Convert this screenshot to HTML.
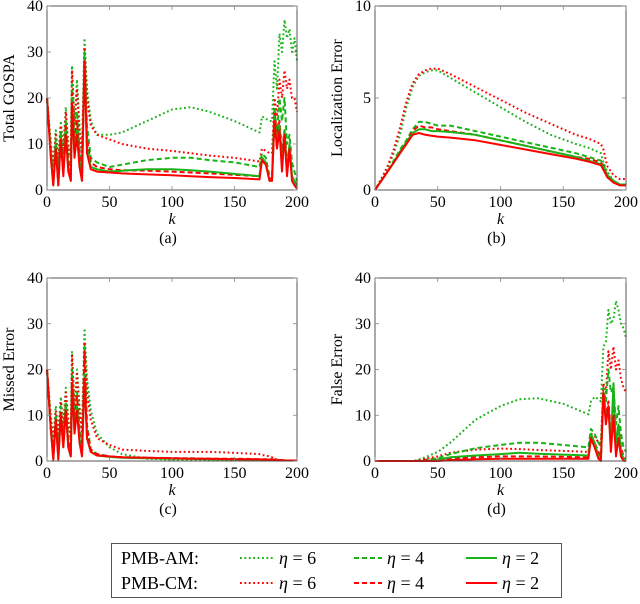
<!DOCTYPE html>
<html><head><meta charset="utf-8"><style>
body{margin:0;background:#fff;}
svg, svg text{font-family:"Liberation Serif","DejaVu Serif",serif !important;}
svg text{fill:#000;}
</style></head><body>
<svg id="fig" width="640" height="599" viewBox="0 0 640 599" xmlns="http://www.w3.org/2000/svg" font-family="Liberation Serif, serif"></svg>
<script>
const kA=[0,3,5,7,9,11,13,15,17,19,20,22,24,26,28,30,32,35,40,50,60,80,100,115,130,150,170,172,175,178,180,182,184,186,188,190,192,194,196,198,200];
const kB=[0,5,10,15,20,25,30,35,40,45,50,60,80,100,120,140,160,170,180,182,185,190,195,200];
const seriesNames=["AM6","CM6","AM4","CM4","AM2","CM2"];
// (a) Total GOSPA
const gospaAM6=[20,10,6,13,7,15,9,18,10,8,27,15,24,14,9,33,22,15,12,12,12.5,15,17.5,18,17,15,12.5,16,15.5,15,15,28,22,34,30,37,33,35,30,33,28];
const gospaCM6=[20,10,5,12,6,14,8,17,9,7,26,14,22,12,8,31,20,14,12,11,10,9,8.5,8,7.5,7,6.2,9,8.5,8,8,20,16,24,20,26,22,24,20,20,17];
const gospaAM4=[20,9,3,11,3,13,6,15,7,4,23,11,17,9,4,30,14,7,6,5,5.5,6.5,7,7,6.5,6,5,8,7,3,3,18,12,20,15,20,10,12,6,4,2];
const gospaCM4=[20,8,2,10,2,12,5,14,6,3,21,10,15,8,3,29,11,6,5,4.5,4.3,4.2,4,3.8,3.6,3.3,3,7,6,2.5,2.5,17,12,15,8,13,6,8,3,2,1];
const gospaAM2=[20,8,1,10,1,12,4,13,5,2,20,8,13,6,2,29,9,5,4.5,4,4.2,4.5,4.5,4.3,4,3.5,3,7,6,2,2,16,10,14,5,13,4,10,3,2,0.5];
const gospaCM2=[20,7,1,9,1,11,3,12,4,2,19,7,12,5,2,28,8,4.5,4,3.8,3.6,3.4,3.2,3,2.8,2.6,2.3,6.5,5.5,2,2,15,9,13,4,12,3,9,2,1,0.3];
// (b) Localization
const locAM6=[0,0.6,1.2,2,3,4.5,5.6,6.2,6.4,6.5,6.5,6.1,5.3,4.5,3.7,3,2.5,2.3,2,1.5,1,0.5,0.3,0.3];
const locCM6=[0,0.6,1.3,2.2,3.4,4.8,5.8,6.3,6.5,6.6,6.6,6.3,5.6,4.9,4.2,3.6,3,2.8,2.5,2.2,1.3,0.8,0.6,0.6];
const locAM4=[0,0.5,1,1.6,2.2,2.7,3.3,3.7,3.7,3.6,3.5,3.5,3.2,2.9,2.6,2.3,2,1.8,1.6,1.4,0.8,0.5,0.3,0.3];
const locCM4=[0,0.5,1,1.5,2.1,2.6,3.2,3.5,3.4,3.4,3.3,3.2,3,2.7,2.4,2.1,1.8,1.7,1.5,1.3,0.8,0.5,0.3,0.3];
const locAM2=[0,0.5,1,1.5,2.1,2.6,3.1,3.3,3.3,3.2,3.2,3.15,3,2.7,2.4,2.1,1.8,1.6,1.4,1.2,0.8,0.5,0.3,0.3];
const locCM2=[0,0.5,1,1.5,2,2.5,3,3.1,3,2.95,2.9,2.85,2.7,2.45,2.2,1.95,1.7,1.55,1.35,1.1,0.7,0.4,0.25,0.25];
// (c) Missed
const misAM6=[20,10,5,12,6,14,8,16,9,6,24,12,20,12,7,29,18,11,6,3,1.5,0.5,0.3,0.2,0.2,0.2,0.2,0.2,0.2,0.2,0.2,0.2,0.1,0.1,0.1,0.1,0.1,0.1,0.1,0.1,0.1];
const misCM6=[20,9,4,11,5,13,7,15,8,5,23,11,19,11,6,26,15,9,5,3.5,2.5,2.2,2,2,2,1.8,1.5,1.3,1.2,1,0.8,0.5,0.3,0.2,0.2,0.1,0.1,0.1,0.1,0.1,0.1];
const misAM4=[20,8,2,10,2,12,5,13,5,3,20,9,15,7,3,25,8,2.5,1.5,1,0.8,0.7,0.6,0.5,0.5,0.4,0.3,0.3,0.3,0.3,0.3,0.3,0.3,0.2,0.2,0.2,0.1,0.1,0.1,0.1,0.1];
const misCM4=[20,7,1,9,1,11,4,12,4,2,18,8,14,6,2,24,7,2.5,1.5,1,0.8,0.7,0.6,0.6,0.5,0.5,0.4,0.4,0.4,0.4,0.4,0.3,0.3,0.2,0.2,0.2,0.1,0.1,0.1,0.1,0.1];
const misAM2=[20,7,0.5,9,0.5,10,3,12,3,1,17,7,12,5,1.5,19,5,2,1.2,0.9,0.7,0.6,0.5,0.5,0.4,0.4,0.3,0.3,0.3,0.3,0.3,0.2,0.2,0.2,0.2,0.1,0.1,0.1,0.1,0.1,0.1];
const misCM2=[20,7,0.3,9,0.3,10,3,11,3,1,17,6,11,4,1,18,5,2,1.2,1,0.8,0.7,0.6,0.5,0.5,0.4,0.4,0.3,0.3,0.3,0.3,0.2,0.2,0.2,0.2,0.1,0.1,0.1,0.1,0.1,0.1];
// (d) False
const falAM6=[0,0,0,0,0,0,0,0,0,0,0,0,0,0,0,0,0.1,0.3,0.8,2,4,9,12,13.5,13.7,12.5,10.2,13,14,13.5,13,25,26,33,30,31,35,33,30,29,27];
const falCM6=[0,0,0,0,0,0,0,0,0,0,0,0,0,0,0,0,0,0.2,0.5,1,1.8,2.5,2.7,2.6,2.4,2.2,2,6,5.5,4,4,17,15,24,20,25,20,22,18,16,15];
const falAM4=[0,0,0,0,0,0,0,0,0,0,0,0,0,0,0,0,0,0.1,0.3,0.6,1.5,2.8,3.5,4,4,3.5,3,7,6,4,3,16,13,20,15,16,8,12,6,3,2];
const falCM4=[0,0,0,0,0,0,0,0,0,0,0,0,0,0,0,0,0,0,0.2,0.3,0.5,0.8,1,1,1,0.9,0.8,5,4,2,1,15,10,13,6,12,4,8,3,1,0.5];
const falAM2=[0,0,0,0,0,0,0,0,0,0,0,0,0,0,0,0,0,0,0,0.3,0.8,1.2,1.5,1.8,1.6,1.4,1.2,6,4,1,0.5,14,9,12,4,17,3,8,2,0.5,0];
const falCM2=[0,0,0,0,0,0,0,0,0,0,0,0,0,0,0,0,0,0,0,0,0.2,0.4,0.5,0.5,0.5,0.5,0.5,5,3,0.5,0,15,8,12,2,10,1,5,1,0,0];

const xTicks=[0,50,100,150,200];
const NS="http://www.w3.org/2000/svg";
const svg=document.getElementById('fig');
const FONT="'Liberation Serif', 'DejaVu Serif', serif";
function el(tag,attrs,parent){const e=document.createElementNS(NS,tag);for(const k in attrs)e.setAttribute(k,attrs[k]);if(tag==='text')e.style.fontFamily=FONT;(parent||svg).appendChild(e);return e;}
const GREEN="#17b317",RED="#ff0000";
const styles={AM6:[GREEN,"1.8,2.6"],CM6:[RED,"1.8,2.6"],AM4:[GREEN,"5,3"],CM4:[RED,"5,3"],AM2:[GREEN,""],CM2:[RED,""]};

function panel(id,x0,x1,y0,y1,yMax,yTicks,ylabel,letter,kArr,data){
  const g=el('g',{});
  
  
  const xs=k=>x0+(k/200)*(x1-x0);
  const ys=v=>y1-(v/yMax)*(y1-y0);
  const order=["AM6","CM6","AM4","CM4","AM2","CM2"];
  order.forEach(n=>{
    const vals=data[n];
    const pts=kArr.map((k,i)=>xs(k).toFixed(1)+","+ys(vals[i]).toFixed(1)).join(" ");
    const p=el('polyline',{points:pts,fill:"none",stroke:styles[n][0],"stroke-width":"2","stroke-linejoin":"round"},g);
    if(styles[n][1])p.setAttribute('stroke-dasharray',styles[n][1]);
    
    
  });
  const frame=el('rect',{x:x0,y:y0,width:x1-x0,height:y1-y0,fill:"none",stroke:"#444","stroke-width":"0.9"},g);
  
  
  xTicks.forEach(t=>{
    const X=xs(t);
    el('line',{x1:X,x2:X,y1:y1,y2:y1-4,stroke:"#888","stroke-width":"0.8"},g);
    el('line',{x1:X,x2:X,y1:y0,y2:y0+4,stroke:"#888","stroke-width":"0.8"},g);
    const tx=el('text',{x:X,y:y1+17,"font-size":"16","text-anchor":"middle"},g);
    tx.textContent=t;
    
    
  });
  yTicks.forEach(t=>{
    const Y=ys(t);
    el('line',{x1:x0,x2:x0+4,y1:Y,y2:Y,stroke:"#888","stroke-width":"0.8"},g);
    el('line',{x1:x1,x2:x1-4,y1:Y,y2:Y,stroke:"#888","stroke-width":"0.8"},g);
    const tx=el('text',{x:x0-4,y:Y+5,"font-size":"16","text-anchor":"end"},g);
    tx.textContent=t;
    
    
  });
  const xl=el('text',{x:(x0+x1)/2,y:y1+34,"font-size":"16","text-anchor":"middle","font-style":"italic"},g);
  xl.textContent="k";
  
  
  const cy=(y0+y1)/2, lx=x0-33;
  const yl=el('text',{x:lx,y:cy,"font-size":"16","text-anchor":"middle",transform:`rotate(-90 ${lx} ${cy})`},g);
  yl.textContent=ylabel;
  
  
  const cap=el('text',{x:(x0+x1)/2-4,y:y1+53,"font-size":"16","text-anchor":"middle"},g);
  cap.textContent="("+letter+")";
  
  
}
panel('a',47,297,6,190,40,[0,10,20,30,40],"Total GOSPA","a",kA,{AM6:gospaAM6,CM6:gospaCM6,AM4:gospaAM4,CM4:gospaCM4,AM2:gospaAM2,CM2:gospaCM2});
panel('b',375,626,6,190,10,[0,5,10],"Localization Error","b",kB,{AM6:locAM6,CM6:locCM6,AM4:locAM4,CM4:locCM4,AM2:locAM2,CM2:locCM2});
panel('c',47,297,278,461,40,[0,10,20,30,40],"Missed Error","c",kA,{AM6:misAM6,CM6:misCM6,AM4:misAM4,CM4:misCM4,AM2:misAM2,CM2:misCM2});
panel('d',375,626,278,461,40,[0,10,20,30,40],"False Error","d",kA,{AM6:falAM6,CM6:falCM6,AM4:falAM4,CM4:falCM4,AM2:falAM2,CM2:falCM2});

const lg=el('g',{});


el('rect',{x:111.5,y:543.5,width:450,height:54,fill:"#fff",stroke:"#555","stroke-width":"1"},lg);
const rows=[["PMB-AM:",["AM6","AM4","AM2"],564],["PMB-CM:",["CM6","CM4","CM2"],589]];
const cols=[[240,274,"6"],[354,382,"4"],[466,497,"2"]];
rows.forEach(r=>{
  const t=el('text',{x:121,y:r[2],"font-size":"18"},lg);
  t.textContent=r[0];
  
  
  r[1].forEach((n,i)=>{
    const c=cols[i];
    const ln=el('line',{x1:c[0],x2:c[1],y1:r[2]-6,y2:r[2]-6,stroke:styles[n][0],"stroke-width":"2"},lg);
    if(styles[n][1])ln.setAttribute('stroke-dasharray',styles[n][1]);
    
    
    const tx=el('text',{x:c[1]+5,y:r[2],"font-size":"18"},lg);
    tx.innerHTML='<tspan font-style="italic">η</tspan> = '+c[2];
    
    
  });
});
</script>
</body></html>
